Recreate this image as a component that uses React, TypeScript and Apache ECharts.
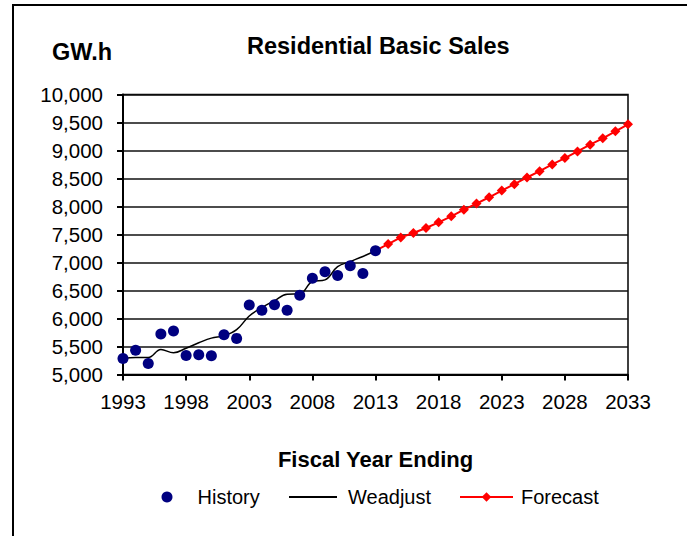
import React, { useEffect, useRef } from 'react';
import * as echarts from 'echarts';

const years = [
  '1993', '1994', '1995', '1996', '1997', '1998', '1999', '2000', '2001', '2002',
  '2003', '2004', '2005', '2006', '2007', '2008', '2009', '2010', '2011', '2012',
  '2013', '2014', '2015', '2016', '2017', '2018', '2019', '2020', '2021', '2022',
  '2023', '2024', '2025', '2026', '2027', '2028', '2029', '2030', '2031', '2032', '2033',
];

const historyValues = [
  5287, 5435, 5197, 5722, 5776, 5340, 5351, 5333, 5710, 5645,
  6242, 6147, 6247, 6147, 6416, 6720, 6833, 6767, 6941, 6803, 7210,
];

const weadjustValues = [
  5287, 5305, 5305, 5448, 5387, 5470, 5566, 5650, 5690, 5800,
  6045, 6194, 6319, 6434, 6440, 6660, 6690, 6925, 7018, 7108, 7210,
];

const forecastStartYear = '2013';
const forecastValues = [
  7210, 7330, 7448, 7527, 7616, 7717, 7824, 7944, 8052, 8165,
  8285, 8398, 8518, 8631, 8751, 8864, 8984, 9104, 9217, 9342, 9468,
];

const yTicks = { min: 5000, max: 10000, interval: 500 };

const FONT = 'Liberation Sans, Arial, sans-serif';

export default function App() {
  const ref = useRef<HTMLDivElement>(null);

  useEffect(() => {
    if (!ref.current) return;
    const chart = echarts.init(ref.current, undefined, { renderer: 'svg' });
    const offset = years.indexOf(forecastStartYear);
    const forecastData = years.map((_, i) =>
      i >= offset && i - offset < forecastValues.length ? forecastValues[i - offset] : null
    );
    const historyData = years.map((_, i) => (i < historyValues.length ? historyValues[i] : null));
    const weadjustData = years.map((_, i) => (i < weadjustValues.length ? weadjustValues[i] : null));

    const legendText = { fontSize: 20, color: '#000', fontFamily: FONT };
    const boldText = { fontSize: 23.5, fontWeight: 'bold', color: '#000', fontFamily: FONT };

    chart.setOption({
      animation: false,
      backgroundColor: '#fff',
      textStyle: { fontFamily: FONT },
      title: [
        {
          text: 'Residential Basic Sales',
          left: 247,
          top: 34,
          padding: 0,
          textStyle: boldText,
        },
        {
          text: 'GW.h',
          left: 52,
          top: 40,
          padding: 0,
          textStyle: boldText,
        },
      ],
      graphic: [
        {
          type: 'rect',
          silent: true,
          shape: { x: 13, y: 5, width: 700, height: 560 },
          style: { fill: 'none', stroke: '#000', lineWidth: 2 },
        },
      ],
      legend: [
        {
          data: [{ name: 'History', icon: 'circle' }],
          left: 161.5,
          top: 487,
          padding: 0,
          itemWidth: 11,
          itemHeight: 11,
          selectedMode: false,
          textStyle: { ...legendText, padding: [0, 0, 0, 20] },
        },
        {
          data: [{ name: 'Weadjust', icon: 'rect' }],
          left: 289,
          top: 487,
          padding: 0,
          itemWidth: 48,
          itemHeight: 2,
          selectedMode: false,
          textStyle: { ...legendText, padding: [0, 0, 0, 6] },
        },
        {
          data: ['Forecast'],
          left: 459,
          top: 487,
          padding: 0,
          itemWidth: 53,
          itemHeight: 12,
          selectedMode: false,
          textStyle: { ...legendText, padding: [0, 0, 0, 3] },
        },
      ],
      grid: {
        left: 123,
        right: 59,
        top: 94.5,
        bottom: 161.5,
        show: true,
        borderColor: '#000',
        borderWidth: 1.5,
        backgroundColor: 'transparent',
      },
      xAxis: {
        type: 'category',
        data: years,
        boundaryGap: false,
        axisLine: { show: true, lineStyle: { color: '#000', width: 2 } },
        axisTick: { show: true, interval: 4, length: 6, lineStyle: { color: '#000', width: 2 } },
        axisLabel: { interval: 4, color: '#000', fontSize: 20.5, fontFamily: FONT, margin: 16 },
        splitLine: { show: false },
        name: 'Fiscal Year Ending',
        nameLocation: 'middle',
        nameGap: 74,
        nameTextStyle: { fontSize: 22, fontWeight: 'bold', color: '#000', fontFamily: FONT },
      },
      yAxis: {
        type: 'value',
        min: yTicks.min,
        max: yTicks.max,
        interval: yTicks.interval,
        axisLine: { show: true, lineStyle: { color: '#000', width: 2 } },
        axisTick: { show: true, length: 6, lineStyle: { color: '#000', width: 2 } },
        axisLabel: {
          color: '#000',
          fontSize: 20.5,
          fontFamily: FONT,
          margin: 20,
          formatter: (v: number) => v.toLocaleString('en-US'),
        },
        splitLine: { show: true, lineStyle: { color: '#111', width: 1.5 } },
      },
      series: [
        {
          name: 'History',
          type: 'scatter',
          data: historyData,
          symbol: 'circle',
          symbolSize: 11,
          itemStyle: { color: '#000080', opacity: 1 },
          z: 5,
        },
        {
          name: 'Weadjust',
          type: 'line',
          data: weadjustData,
          smooth: 0.4,
          symbol: 'none',
          showSymbol: false,
          lineStyle: { color: '#000', width: 1.5 },
          itemStyle: { color: '#000' },
          z: 3,
        },
        {
          name: 'Forecast',
          type: 'line',
          data: forecastData,
          symbol: 'diamond',
          symbolSize: 10,
          showAllSymbol: true,
          lineStyle: { color: '#ff0000', width: 2 },
          itemStyle: { color: '#ff0000' },
          z: 4,
        },
      ],
    });

    return () => chart.dispose();
  }, []);

  return (
    <div
      ref={ref}
      style={{ position: 'absolute', left: 0, top: 0, width: 687, height: 536 }}
    />
  );
}
